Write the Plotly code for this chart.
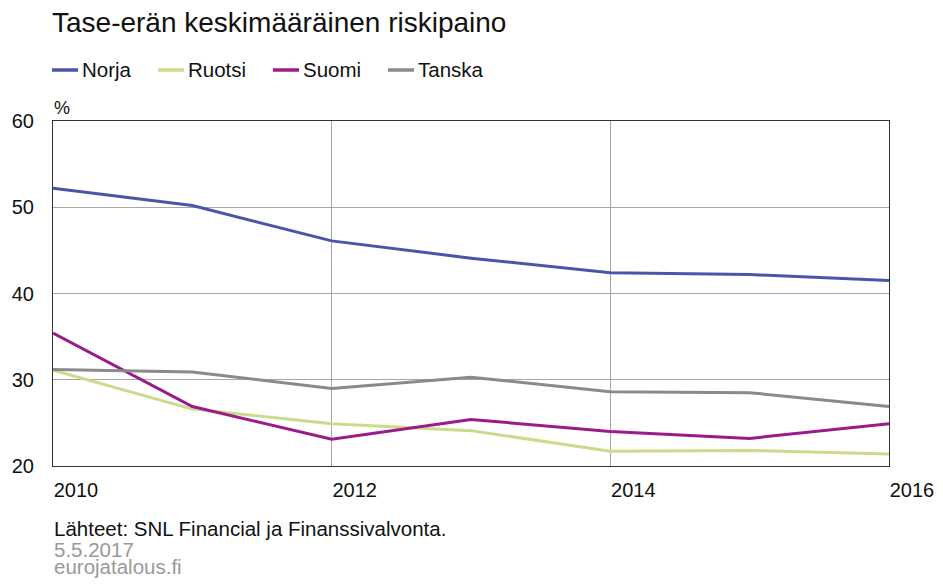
import plotly.graph_objects as go

years = [2010, 2011, 2012, 2013, 2014, 2015, 2016]
norja = [52.2, 50.2, 46.1, 44.1, 42.4, 42.2, 41.5]
ruotsi = [31.1, 26.6, 24.9, 24.1, 21.7, 21.8, 21.4]
suomi = [35.4, 26.9, 23.1, 25.4, 24.0, 23.2, 24.9]
tanska = [31.2, 30.9, 29.0, 30.3, 28.6, 28.5, 26.9]
x_ticks = [2010, 2012, 2014, 2016]
y_ticks = [20, 30, 40, 50, 60]

FONT = "Liberation Sans, Arial, sans-serif"

series = [
    ("Norja", norja, "#4b55a8"),
    ("Ruotsi", ruotsi, "#c9dc8a"),
    ("Suomi", suomi, "#9c1b8b"),
    ("Tanska", tanska, "#8a8a8a"),
]

# figure geometry (page body adds an 8px offset)
W, H = 935, 577
L, R, T, B = 45, 54, 113, 119
PW, PH = W - L - R, H - T - B


def px(x):
    return (x - L) / PW


def py(y):
    return (H - B - y) / PH


fig = go.Figure()
for name, vals, col in series:
    fig.add_trace(go.Scatter(x=years, y=vals, name=name, mode="lines",
                             line=dict(color=col, width=3), showlegend=False))

fig.update_layout(
    width=W, height=H,
    margin=dict(l=L, r=R, t=T, b=B),
    paper_bgcolor="white", plot_bgcolor="white",
    font=dict(family=FONT, size=20, color="#111111"),
    showlegend=False,
    xaxis=dict(range=[2010, 2016], tickvals=x_ticks, ticktext=[str(v) for v in x_ticks],
               showgrid=True, gridcolor="#a6a6a6", gridwidth=1, automargin=False,
               showline=True, linecolor="#333333", linewidth=1, mirror=True,
               ticks="", ticklabelshift=23, ticklabelstandoff=6,
               tickfont=dict(size=20, color="#111111"), zeroline=False),
    yaxis=dict(range=[20, 60], tickvals=y_ticks, showgrid=True, gridcolor="#a6a6a6",
               gridwidth=1, showline=True, linecolor="#333333", linewidth=1, mirror=True,
               ticks="", ticklabelstandoff=14, tickfont=dict(size=20, color="#111111"),
               zeroline=False, automargin=False),
)

# title
fig.add_annotation(text="Tase-erän keskimääräinen riskipaino", x=px(42), y=py(14),
                   xref="paper", yref="paper", xanchor="left", yanchor="middle",
                   showarrow=False, font=dict(size=28, color="#111111"))

# legend (manual, to match the reference spacing)
legend_x = [44, 150, 265, 380]
for (name, vals, col), lx in zip(series, legend_x):
    fig.add_shape(type="line", xref="paper", yref="paper",
                  x0=px(lx), x1=px(lx + 26), y0=py(62), y1=py(62),
                  line=dict(color=col, width=3.5))
    fig.add_annotation(text=name, x=px(lx + 28), y=py(62), xref="paper", yref="paper",
                       xanchor="left", yanchor="middle", showarrow=False,
                       font=dict(size=20.5, color="#111111"))

fig.add_annotation(text="%", x=px(44), y=py(100), xref="paper", yref="paper",
                   xanchor="left", yanchor="middle", showarrow=False,
                   font=dict(size=18, color="#111111"))

notes = [("Lähteet: SNL Financial ja Finanssivalvonta.", "#111111", 520),
         ("5.5.2017", "#999999", 541),
         ("eurojatalous.fi", "#999999", 558)]
for txt, col, ypx in notes:
    fig.add_annotation(text=txt, x=px(44), y=py(ypx), xref="paper", yref="paper",
                       xanchor="left", yanchor="middle", showarrow=False,
                       font=dict(size=20.5, color=col))

fig.write_html("out.html")
